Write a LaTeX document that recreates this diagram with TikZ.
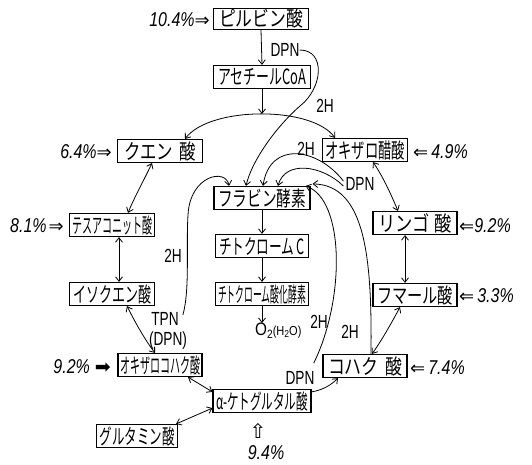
\documentclass[tikz,border=0pt]{standalone}
\usepackage{fontspec}
\usepackage{graphicx}
\setmainfont{Liberation Sans}
\newfontfamily\jpf{Noto Sans CJK JP}
\newfontfamily\djv{DejaVu Sans}
\usetikzlibrary{arrows.meta}
\newcommand{\fitw}[2]{\resizebox{#1}{\height}{#2}}
\newcommand{\lb}[1]{\scalebox{0.72}[1]{\fontsize{19}{19}\selectfont #1}}
\newcommand{\pc}[1]{\scalebox{0.8}[1]{\fontsize{20}{20}\selectfont\itshape #1}}
\newcommand{\arw}[1]{{\djv\fontsize{18}{18}\selectfont #1}}
\begin{document}
\begin{tikzpicture}[x=1pt,y=-1pt,
  box/.style={draw, line width=1.2pt, minimum height=23pt, inner sep=0pt, font=\jpf\fontsize{21}{21}\selectfont},
  lbl/.style={inner sep=0pt},
  cn/.style={line width=0.8pt},
  oneway/.style={cn, -{Straight Barb[length=4.5pt,width=7pt]}},
  twoway/.style={cn, {Straight Barb[length=4.5pt,width=7pt]}-{Straight Barb[length=4.5pt,width=7pt]}}]
\fill[white] (0,0) rectangle (532,465);
\useasboundingbox (0,0) rectangle (532,465);

% boxes
\node[box,minimum width=95pt,minimum height=21pt] (pyr) at (261,19) {\fitw{84pt}{ピルビン酸}};
\node[box,minimum width=97pt] (acetyl) at (262,77) {\fitw{88pt}{アセチールCoA}};
\node[box,minimum width=85pt] (citric) at (160,151) {\fitw{72pt}{クエン\hspace{8pt}酸}};
\node[box,minimum width=85pt] (aconitic) at (112,225) {\fitw{80pt}{テスアコニット酸}};
\node[box,minimum width=85pt] (isocitric) at (112,294) {\fitw{78pt}{イソクエン酸}};
\node[box,minimum width=84pt] (oxalosucc) at (160,365) {\fitw{80pt}{オキザロコハク酸}};
\node[box,minimum width=98pt] (akg) at (262,401) {\fitw{92pt}{α-ケトグルタル酸}};
\node[box,minimum width=81pt] (glutamic) at (137,436) {\fitw{75pt}{グルタミン酸}};
\node[box,minimum width=84pt] (succinic) at (365,366) {\fitw{74pt}{コハク\hspace{8pt}酸}};
\node[box,minimum width=84pt] (fumaric) at (415,295) {\fitw{76pt}{フマール酸}};
\node[box,minimum width=84pt] (malic) at (415,223) {\fitw{74pt}{リンゴ\hspace{6pt}酸}};
\node[box,minimum width=85pt] (oxalo) at (365,150) {\fitw{80pt}{オキザロ醋酸}};
\node[box,minimum width=96pt] (flavin) at (262,198) {\fitw{88pt}{フラビン酵素}};
\node[box,minimum width=93pt] (cytc) at (262,246) {\fitw{86pt}{チトクローム\hspace{4pt}C}};
\node[box,minimum width=93pt] (cytox) at (262,294) {\fitw{88pt}{チトクローム酸化酵素}};

% small labels
\node[lbl] (dpn1) at (285,50) {\lb{DPN}};
\node[lbl] (h2a) at (325,106) {\lb{2H}};
\node[lbl] (h2b) at (306,149) {\lb{2H}};
\node[lbl] (dpnm) at (360,184) {\lb{DPN}};
\node[lbl] (h2c) at (173,256) {\lb{2H}};
\node[lbl] (tpn) at (165,319) {\lb{TPN}};
\node[lbl] (dpnp) at (168,341) {\lb{(DPN)}};
\node[lbl,anchor=west] (o2) at (255,331) {\scalebox{0.85}[1]{\fontsize{18}{18}\selectfont O\raisebox{-3pt}{\fontsize{12}{12}\selectfont 2}\fontsize{13}{13}\selectfont(H\raisebox{-2pt}{\fontsize{10}{10}\selectfont 2}O)}};
\node[lbl] (h2d) at (319,322) {\lb{2H}};
\node[lbl] (h2e) at (350,332) {\lb{2H}};
\node[lbl] (dpns) at (300,378) {\lb{DPN}};

% percentages
\node[lbl,anchor=east] (p1) at (210,20) {\pc{10.4\%}\arw{⇒}};
\node[lbl,anchor=east] (p2) at (112,152) {\pc{6.4\%}\arw{⇒}};
\node[lbl,anchor=east] (p3) at (64,226) {\pc{8.1\%}\hspace{2pt}\arw{⇒}};
\node[lbl,anchor=east] (p4) at (111,367) {\pc{9.2\%}\hspace{5pt}{\djv\fontsize{19}{19}\selectfont ➡}};
\node[lbl,anchor=west] (p5) at (413,152) {\arw{⇐}\hspace{3pt}\pc{4.9\%}};
\node[lbl,anchor=west] (p6) at (459,226) {\arw{⇐}\pc{9.2\%}};
\node[lbl,anchor=west] (p7) at (459,296) {\arw{⇐}\hspace{3pt}\pc{3.3\%}};
\node[lbl,anchor=west] (p8) at (410,368) {\arw{⇐}\hspace{3pt}\pc{7.4\%}};
\node[lbl] (up9) at (258,431) {{\djv\fontsize{20}{20}\selectfont ⇧}};
\node[lbl] (p9) at (266,453) {\pc{9.4\%}};

% main column
\coordinate (arctop) at (262,114);
\draw[oneway] (pyr.south) -- (acetyl.north);
\draw[oneway] (acetyl.south) -- (arctop);
\draw[oneway] (flavin.south) -- (cytc.north);
\draw[oneway] (cytc.south) -- (cytox.north);
\draw[oneway] (cytox.south) -- (cytox.south |- o2.north);

% cycle
\draw[twoway] ([xshift=25pt]citric.north) .. controls (210,106) and (312,106) .. ([xshift=-30pt]oxalo.north);
\draw[twoway] ([xshift=-8pt]citric.south) .. controls (144,180) and (134,198) .. ([xshift=16pt]aconitic.north);
\draw[twoway] ([xshift=7pt]aconitic.south) -- ([xshift=7pt]isocitric.north);
\draw[twoway] ([xshift=15pt]isocitric.south) .. controls (135,322) and (145,340) .. ([xshift=-5pt]oxalosucc.north);
\draw[twoway] ([xshift=28pt]oxalosucc.south) -- ([yshift=-3pt]akg.north west);
\draw[twoway] ([yshift=5pt]akg.south west) -- ([xshift=-2pt]glutamic.north east);
\draw[oneway] ([yshift=-3pt]akg.north east) .. controls (322,390) and (330,386) .. ([xshift=-27pt]succinic.south);
\draw[twoway] ([xshift=7pt]succinic.north) .. controls (382,340) and (392,322) .. ([xshift=-15pt]fumaric.south);
\draw[twoway] ([xshift=-10pt]fumaric.north) -- ([xshift=-10pt]malic.south);
\draw[twoway] ([xshift=-17pt]malic.north) .. controls (390,192) and (382,175) .. ([xshift=8pt]oxalo.south);

% hydrogen transfer curves
\draw[oneway] (dpn1.east) .. controls (326,50) and (323,88) .. (300,106) .. controls (277,126) and (252,160) .. ([xshift=-16pt]flavin.north);
\draw[oneway] ([xshift=4pt,yshift=4pt]tpn.east) .. controls (190,290) and (186,245) .. (188,215) .. controls (190,175) and (226,168) .. ([xshift=-33pt]flavin.north);
\draw[oneway] ([xshift=-2pt,yshift=3pt]dpnm.west) .. controls (318,148) and (270,140) .. ([xshift=1pt]flavin.north);
\draw[oneway] ([xshift=-2pt,yshift=-2pt]dpnm.west) .. controls (322,165) and (285,160) .. ([xshift=16pt]flavin.north);
\draw[oneway] ([xshift=-1pt,yshift=8pt]dpns.north east) .. controls (345,300) and (345,200) .. ([xshift=-5pt]flavin.north east);
\draw[oneway] ([xshift=6pt]succinic.north) .. controls (372,260) and (366,185) .. ([xshift=2pt,yshift=2pt]flavin.north east);
\end{tikzpicture}
\end{document}
